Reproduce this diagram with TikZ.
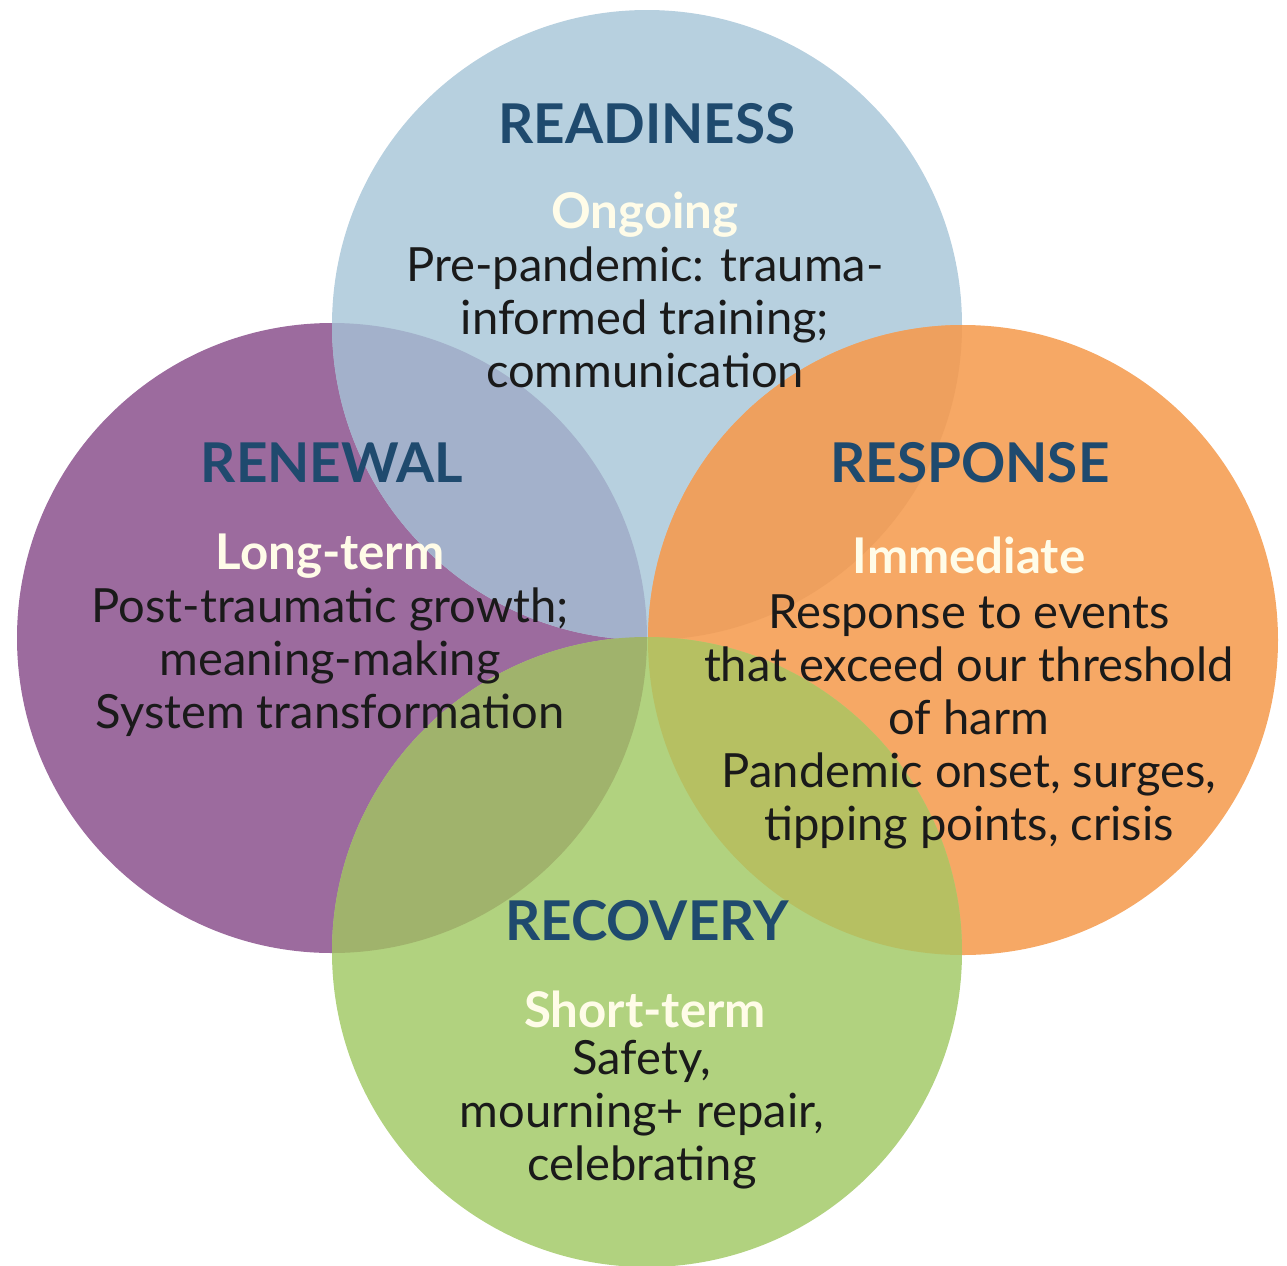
\documentclass[tikz,border=0pt]{standalone}
\usepackage{fontspec}
\setmainfont{Lato}

\definecolor{ringblue}{HTML}{B7D0DF}
\definecolor{ringpurple}{HTML}{9C6B9E}
\definecolor{ringorange}{HTML}{F6A865}
\definecolor{ringgreen}{HTML}{B1D27F}
\definecolor{mixbp}{HTML}{A3B1CB}
\definecolor{mixbo}{HTML}{EEA05E}
\definecolor{mixgp}{HTML}{A0B36C}
\definecolor{mixgo}{HTML}{B6C062}
\definecolor{titlecol}{HTML}{1F4A6E}
\definecolor{phasecol}{HTML}{FFFCE8}
\definecolor{bodycol}{HTML}{1A1A1A}

\begin{document}
\begin{tikzpicture}[x=0.01cm,y=-0.01cm,
   every node/.style={align=center,inner sep=0pt},
   ring/.style={radius=315},
   title/.style={font=\fontsize{15.6}{18}\selectfont\bfseries,text=titlecol},
   phase/.style={font=\fontsize{14}{16}\selectfont\bfseries,text=phasecol},
   body/.style={font=\fontsize{13.4}{15.1}\selectfont,text=bodycol}]
  \useasboundingbox (0,0) rectangle (1287,1266);
  % circle centres
  \coordinate (cread) at (647,325);
  \coordinate (cren) at (332,638);
  \coordinate (cresp) at (963,640);
  \coordinate (crec) at (647,952);
  \fill[ringpurple] (cren) circle[ring];
  \fill[ringblue] (cread) circle[ring];
  \fill[ringorange] (cresp) circle[ring];
  \fill[ringgreen] (crec) circle[ring];
  % overlaps
  \begin{scope}\clip (cread) circle[ring]; \fill[mixbp] (cren) circle[ring];\end{scope}
  \begin{scope}\clip (cread) circle[ring]; \fill[mixbo] (cresp) circle[ring];\end{scope}
  \begin{scope}\clip (crec) circle[ring]; \fill[mixgp] (cren) circle[ring];\end{scope}
  \begin{scope}\clip (crec) circle[ring]; \fill[mixgo] (cresp) circle[ring];\end{scope}
  % readiness
  \node[title] (readT) at (647,124) {READINESS};
  \node[phase] (readP) at (645,215) {Ongoing};
  \node[body] (readB) at (645,317) {Pre-pandemic: trauma-\\informed training;\\communication};
  % renewal
  \node[title] (renT) at (332,463) {RENEWAL};
  \node[phase] (renP) at (330,556) {Long-term};
  \node[body] (renB) at (330,662) {Post-traumatic growth;\\meaning-making\\System transformation};
  % response
  \node[title] (respT) at (970,463) {RESPONSE};
  \node[phase] (respP) at (969,555) {Immediate};
  \node[body] (respB) at (969,722) {Response to events\\that exceed our threshold\\of harm\\Pandemic onset, surges,\\tipping points, crisis};
  % recovery
  \node[title] (recT) at (647,921) {RECOVERY};
  \node[phase] (recP) at (645,1009) {Short-term};
  \node[body] (recB) at (642,1115) {Safety,\\mourning+ repair,\\celebrating};
 \end{tikzpicture}
\end{document}
